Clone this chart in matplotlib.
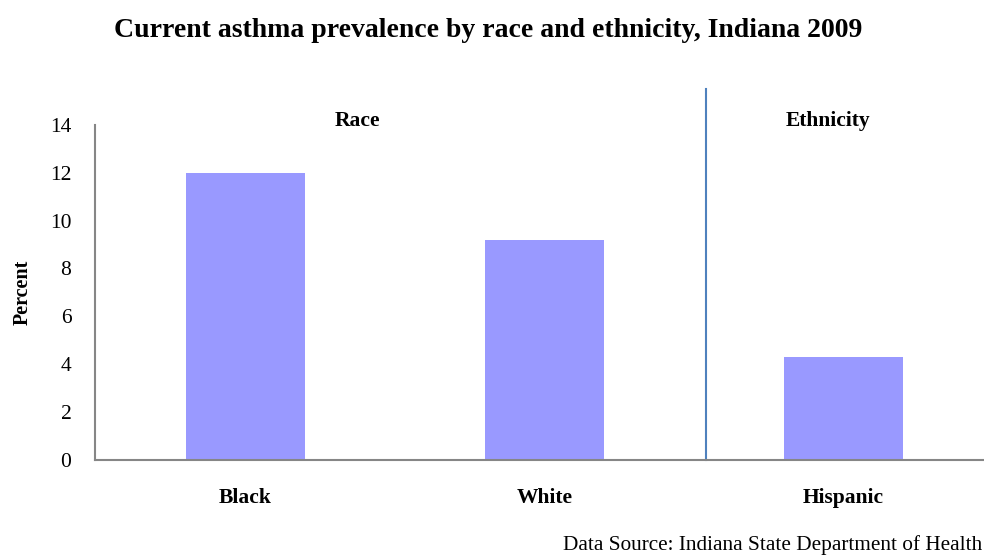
import matplotlib
matplotlib.use("Agg")
import matplotlib.pyplot as plt

plt.rcParams['font.family'] = ['Liberation Serif', 'DejaVu Serif']

groups = ['Black', 'White', 'Hispanic']
percent = [12.0, 9.2, 4.3]
yticks = [0, 2, 4, 6, 8, 10, 12, 14]

fig = plt.figure(figsize=(9.84, 5.57), dpi=100)
ax = fig.add_axes([0.0965, 0.174, 0.9035, 0.602])

x = range(len(groups))
ax.bar(x, percent, width=0.398, color='#9999FF', zorder=2)

ax.set_xlim(-0.503, 2.47)
ax.set_ylim(0, 14)
ax.set_yticks(yticks)
ax.set_yticklabels([str(t) for t in yticks], fontsize=15.5)
ax.set_xticks(list(x))
ax.set_xticklabels(groups, fontsize=15.5, fontweight='bold')
ax.tick_params(axis='both', length=0)
ax.tick_params(axis='x', pad=20)
ax.tick_params(axis='y', pad=17)

for side in ['top', 'right']:
    ax.spines[side].set_visible(False)
for side in ['left', 'bottom']:
    ax.spines[side].set_color('#868686')
    ax.spines[side].set_linewidth(1.5)

ax.set_ylabel('Percent', fontsize=14.5, fontweight='bold', labelpad=12)

# separator between race and ethnicity groups
ax.plot([1.54, 1.54], [0, 15.5], color='#4F81BD', linewidth=1.5, clip_on=False)
ax.text(0.376, 14.15, 'Race', ha='center', va='center', fontsize=15.5, fontweight='bold')
ax.text(1.948, 14.15, 'Ethnicity', ha='center', va='center', fontsize=15.5, fontweight='bold')

fig.text(0.496, 0.946, 'Current asthma prevalence by race and ethnicity, Indiana 2009',
         ha='center', va='center', fontsize=20, fontweight='bold')
fig.text(0.998, 0.0125, 'Data Source: Indiana State Department of Health',
         ha='right', va='baseline', fontsize=15.3)

fig.savefig('out.png', dpi=100)
